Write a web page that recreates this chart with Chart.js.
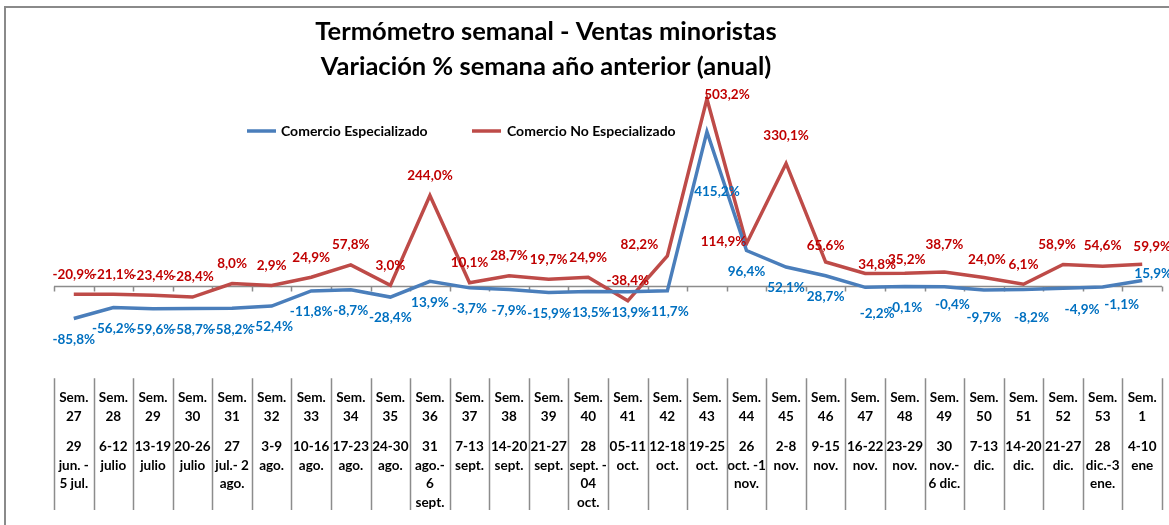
<!DOCTYPE html>
<html>
<head>
<meta charset="utf-8">
<script src="https://cdn.jsdelivr.net/npm/chart.js@4.4.1/dist/chart.umd.min.js"></script>
<style>
  body { margin: 0; background: #fff; }
  canvas { display: block; }
</style>
</head>
<body>
<canvas id="termometro" width="1169" height="525"></canvas>
<script>
// semanas y rangos de fechas
const semanas = ['27','28','29','30','31','32','33','34','35','36','37','38','39','40','41','42','43','44','45','46','47','48','49','50','51','52','53','1'];
const fechas = [
    ['29','jun. -','5 jul.'], ['6-12','julio'], ['13-19','julio'], ['20-26','julio'],
    ['27','jul.- 2','ago.'], ['3-9','ago.'], ['10-16','ago.'], ['17-23','ago.'], ['24-30','ago.'],
    ['31','ago.-','6','sept.'], ['7-13','sept.'], ['14-20','sept.'], ['21-27','sept.'],
    ['28','sept. -','04','oct.'], ['05-11','oct.'], ['12-18','oct.'], ['19-25','oct.'],
    ['26','oct. -1','nov.'], ['2-8','nov.'], ['9-15','nov.'], ['16-22','nov.'], ['23-29','nov.'],
    ['30','nov.-','6 dic.'], ['7-13','dic.'], ['14-20','dic.'], ['21-27','dic.'], ['28','dic.-3','ene.'], ['4-10','ene']
];
const especializado = [-85.8, -56.2, -59.6, -58.7, -58.2, -52.4, -11.8, -8.7, -28.4, 13.9, -3.7, -7.9, -15.9, -13.5, -13.9, -11.7, 415.2, 96.4, 52.1, 28.7, -2.2, -0.1, -0.4, -9.7, -8.2, -4.9, -1.1, 15.9];
const noEspecializado = [-20.9, -21.1, -23.4, -28.4, 8.0, 2.9, 24.9, 57.8, 3.0, 244.0, 10.1, 28.7, 19.7, 24.9, -38.4, 82.2, 503.2, 114.9, 330.1, 65.6, 34.8, 35.2, 38.7, 24.0, 6.1, 58.9, 54.6, 59.9];

// ajustes manuales de etiquetas (dx, dy desde el punto)
const ajusteAzul = { 16: [10, 60], 20: [12, 26], 22: [8, 18], 23: [0, 28], 24: [8, 28], 25: [19, 21], 26: [19, 18], 27: [11, -7] };
const ajusteRojo = { 15: [-28, -11], 16: [20, -4], 17: [-23, -2], 18: [0, -28], 19: [0, -16], 20: [12, -9], 21: [2, -14], 22: [0, -27], 23: [3, -18], 25: [-6, -20], 27: [10, -18] };

const fmt = v => v.toFixed(1).replace('.', ',') + '%';
const tickFont = { family: 'Lato', weight: 'bold', size: 13.5, lineHeight: 1.38 };

const decoPlugin = {
    id: 'deco',
    beforeDraw(chart) {
        const ctx = chart.ctx;
        ctx.save();
        ctx.strokeStyle = '#8a8a8a';
        ctx.lineWidth = 2;
        ctx.beginPath();
        ctx.moveTo(5, 525);
        ctx.lineTo(5, 7);
        ctx.lineTo(1169, 7);
        ctx.stroke();
        ctx.restore();
    },
    beforeDatasetsDraw(chart) {
        const ctx = chart.ctx;
        const x = chart.scales.x, y = chart.scales.y;
        const y0 = y.getPixelForValue(0);
        const step = (x.right - x.left) / semanas.length;
        ctx.save();
        ctx.strokeStyle = '#8c8c8c';
        ctx.lineWidth = 1.5;
        ctx.beginPath();
        ctx.moveTo(x.left, y0);
        ctx.lineTo(x.right, y0);
        for (let k = 0; k <= semanas.length; k++) {
            const px = Math.round(x.left + k * step) + 0.5;
            ctx.moveTo(px, y0);
            ctx.lineTo(px, y0 + 5);
            ctx.moveTo(px, chart.chartArea.bottom);
            ctx.lineTo(px, 510);
        }
        ctx.stroke();
        ctx.restore();
    },
    afterDatasetsDraw(chart) {
        const ctx = chart.ctx;
        ctx.save();
        ctx.font = 'bold 13.5px Lato';
        ctx.textAlign = 'center';
        ctx.textBaseline = 'middle';
        chart.data.datasets.forEach((ds, di) => {
            const meta = chart.getDatasetMeta(di);
            const ajustes = di === 0 ? ajusteAzul : ajusteRojo;
            ctx.fillStyle = di === 0 ? '#0070C0' : '#C00000';
            meta.data.forEach((pt, i) => {
                const a = ajustes[i] || [0, di === 0 ? 21 : -20];
                ctx.fillText(fmt(ds.data[i]), pt.x + a[0], pt.y + a[1]);
            });
        });

        // título
        ctx.fillStyle = '#000';
        ctx.font = 'bold 25.5px Lato';
        ctx.fillText('Termómetro semanal - Ventas minoristas', 546, 32);
        ctx.fillText('Variación % semana año anterior (anual)', 546, 67);

        // leyenda
        ctx.font = 'bold 14px Lato';
        ctx.textAlign = 'left';
        ctx.lineWidth = 3.5;
        ctx.strokeStyle = '#4A7EBB';
        ctx.beginPath(); ctx.moveTo(247, 131); ctx.lineTo(276, 131); ctx.stroke();
        ctx.fillText('Comercio Especializado', 281, 131);
        ctx.strokeStyle = '#BE4B48';
        ctx.beginPath(); ctx.moveTo(472, 131); ctx.lineTo(501, 131); ctx.stroke();
        ctx.fillText('Comercio No Especializado', 507, 131);
        ctx.restore();
    }
};

new Chart(document.getElementById('termometro'), {
    type: 'line',
    data: {
        labels: semanas.map(s => ['Sem.', s]),
        datasets: [
            { label: 'Comercio Especializado', data: especializado, borderColor: '#4A7EBB', borderWidth: 3.5, pointRadius: 0, tension: 0 },
            { label: 'Comercio No Especializado', data: noEspecializado, borderColor: '#BE4B48', borderWidth: 3.5, pointRadius: 0, tension: 0 }
        ]
    },
    options: {
        responsive: false,
        animation: false,
        devicePixelRatio: 1,
        layout: { padding: { left: 54, right: 7, top: 90, bottom: 11 } },
        plugins: { legend: { display: false }, title: { display: false }, tooltip: { enabled: false } },
        scales: {
            y: { display: false, min: -246, max: 527 },
            x: {
                offset: true,
                grid: { display: false, drawTicks: false },
                border: { display: false },
                ticks: { autoSkip: false, maxRotation: 0, minRotation: 0, padding: 10, color: '#000', font: tickFont }
            },
            x2: {
                type: 'category',
                labels: fechas,
                position: 'bottom',
                offset: true,
                grid: { display: false, drawTicks: false },
                border: { display: false },
                ticks: { autoSkip: false, maxRotation: 0, minRotation: 0, padding: 2, color: '#000', font: tickFont }
            }
        }
    },
    plugins: [decoPlugin]
});
</script>
</body>
</html>
